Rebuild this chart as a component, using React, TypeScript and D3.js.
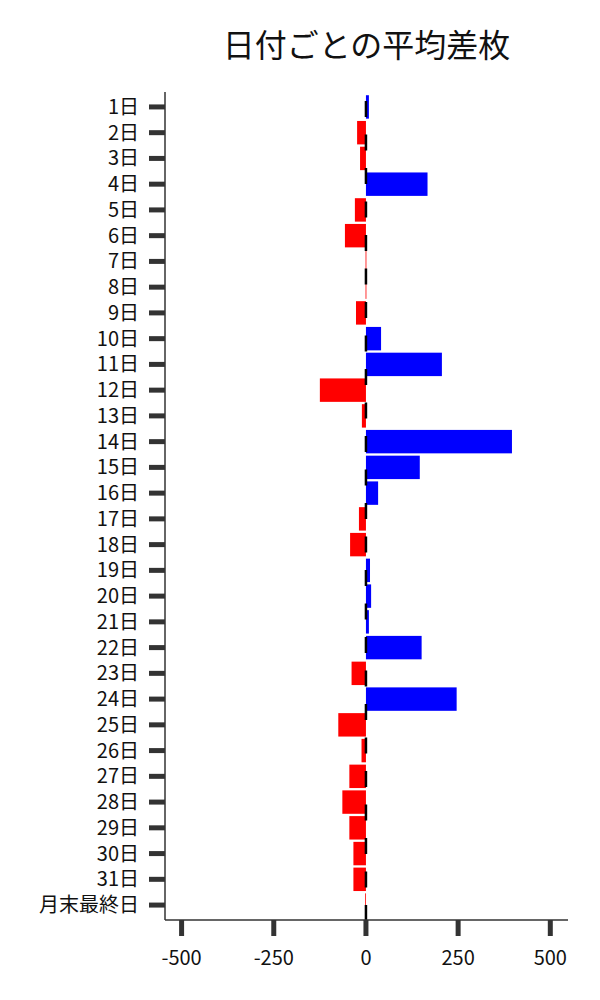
import * as d3 from 'd3';

const days: string[] = [
  '1日', '2日', '3日', '4日', '5日', '6日', '7日', '8日', '9日', '10日',
  '11日', '12日', '13日', '14日', '15日', '16日', '17日', '18日', '19日', '20日',
  '21日', '22日', '23日', '24日', '25日', '26日', '27日', '28日', '29日', '30日',
  '31日', '月末最終日',
];
// average difference per day
const avgDiff: number[] = [
  8, -24, -16, 167, -30, -57, -1, -1, -27, 41,
  206, -125, -11, 396, 146, 33, -19, -43, 11, 14,
  8, 151, -39, 246, -75, -12, -45, -64, -45, -34,
  -34, -2,
];
const xTicks: number[] = [-500, -250, 0, 250, 500];

const W = 600;
const H = 1000;
const left = 165;
const right = 568;
const top = 92;
const bottom = 920;
const axisColor = '#333333';
const font = '"Noto Sans CJK JP", "Noto Sans", sans-serif';

const App = () => {
  const x = d3.scaleLinear().domain([-545, 548]).range([left, right]);
  const y = d3.scalePoint<string>().domain(days).range([top, bottom]).padding(0.58);
  const barH = y.step() * 0.91;
  const x0 = x(0);

  return (
    <svg
      width={W}
      height={H}
      style={{ position: 'absolute', left: 0, top: 0, background: '#fff' }}
      fontFamily={font}
    >
      <rect width={W} height={H} fill="#fff" />
      {/* Title */}
      <text x={(left + right) / 2} y={57} textAnchor="middle" fontSize={32} fill="#111">
        日付ごとの平均差枚
      </text>

      {/* Bars */}
      {days.map((d, i) => {
        const v = avgDiff[i];
        const cy = y(d) as number;
        return (
          <rect
            key={d}
            x={Math.min(x(v), x0)}
            y={cy - barH / 2}
            width={Math.max(Math.abs(x(v) - x0), 0.8)}
            height={barH}
            fill={v >= 0 ? '#0000ff' : '#ff0000'}
          />
        );
      })}

      {/* zero reference line */}
      <path
        d={`M${x0},${bottom + 1}V${top}`}
        stroke="#000"
        strokeWidth={2.5}
        strokeDasharray="16 17.5"
        fill="none"
      />

      {/* spines */}
      <line x1={left} x2={left} y1={top} y2={bottom} stroke={axisColor} strokeWidth={1.5} />
      <line x1={left} x2={right} y1={bottom} y2={bottom} stroke={axisColor} strokeWidth={1.5} />

      {/* y ticks */}
      {days.map((d) => {
        const cy = y(d) as number;
        return (
          <g key={`yt-${d}`}>
            <line x1={149} x2={left} y1={cy} y2={cy} stroke={axisColor} strokeWidth={5} />
            <text x={139} y={cy} dy="0.35em" textAnchor="end" fontSize={20} fill="#111">
              {d}
            </text>
          </g>
        );
      })}

      {/* x ticks */}
      {xTicks.map((t) => (
        <g key={`xt-${t}`}>
          <line x1={x(t)} x2={x(t)} y1={bottom} y2={bottom + 16} stroke={axisColor} strokeWidth={5} />
          <text x={x(t)} y={bottom + 45} textAnchor="middle" fontSize={20} fill="#111">
            {t}
          </text>
        </g>
      ))}
    </svg>
  );
};

export default App;
